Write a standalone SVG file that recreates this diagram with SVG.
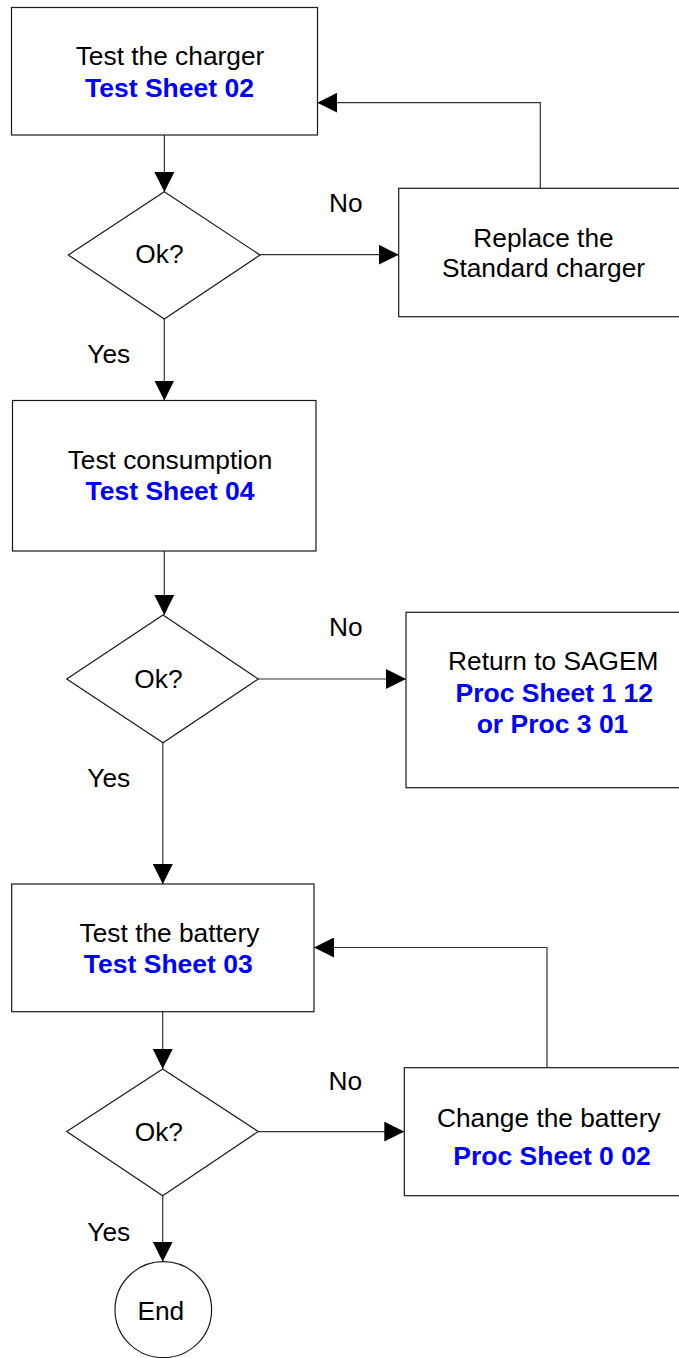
<svg xmlns="http://www.w3.org/2000/svg" width="679" height="1358" viewBox="0 0 679 1358">
<defs>
<style>
.box{fill:#fff;stroke:#1a1a1a;stroke-width:1.2}
.ln{fill:none;stroke:#333;stroke-width:1.2}
.t{font-family:"Liberation Sans",Arial,Helvetica,sans-serif;font-size:26.3px;fill:#000}
.b{font-family:"Liberation Sans",Arial,Helvetica,sans-serif;font-size:26.5px;font-weight:bold;fill:#0000ff}
.m{text-anchor:middle}
</style>
<marker id="ah" markerUnits="userSpaceOnUse" markerWidth="20" markerHeight="20" viewBox="0 0 20 20" refX="20" refY="10" orient="auto">
<path d="M0,0 L20,10 L0,20 Z" fill="#000"/>
</marker>
</defs>
<rect width="679" height="1358" fill="#fff"/>

<g id="connectors">
<path class="ln" d="M164.4,135 V192" marker-end="url(#ah)"/>
<path class="ln" d="M260,254.7 H398.7" marker-end="url(#ah)"/>
<path class="ln" d="M540.3,188.3 V102.7 H317.3" marker-end="url(#ah)"/>
<path class="ln" d="M164.3,319 V400.5" marker-end="url(#ah)"/>
<path class="ln" d="M164.3,551 V615" marker-end="url(#ah)"/>
<path class="ln" d="M258.3,679 H406" marker-end="url(#ah)"/>
<path class="ln" d="M162.8,742.7 V884" marker-end="url(#ah)"/>
<path class="ln" d="M162.7,1011.7 V1069" marker-end="url(#ah)"/>
<path class="ln" d="M258.3,1131.6 H404.3" marker-end="url(#ah)"/>
<path class="ln" d="M547,1067.7 V947.5 H314" marker-end="url(#ah)"/>
<path class="ln" d="M162.7,1195.7 V1261.7" marker-end="url(#ah)"/>
</g>

<g id="labels">
<text class="t" x="329" y="212.3">No</text>
<text class="t" x="87.3" y="363.3">Yes</text>
<text class="t" x="329" y="636">No</text>
<text class="t" x="87.3" y="787.3">Yes</text>
<text class="t" x="328.5" y="1090">No</text>
<text class="t" x="87.3" y="1241">Yes</text>
</g>

<g id="test-charger">
<rect class="box" x="11.5" y="7.5" width="306" height="127.5"/>
<text class="t m" x="170" y="65">Test the charger</text>
<text class="b m" x="169.5" y="96.7">Test Sheet 02</text>
</g>

<g id="ok1">
<polygon class="box" points="164.3,191.7 260,255 164.3,319 68.3,255"/>
<text class="t m" x="159.4" y="263.3">Ok?</text>
</g>

<g id="replace-charger">
<rect class="box" x="398.7" y="188.3" width="290" height="128.4"/>
<text class="t m" x="543.5" y="246.7">Replace the</text>
<text class="t m" x="543.5" y="276.7">Standard charger</text>
</g>

<g id="test-consumption">
<rect class="box" x="12.5" y="400.5" width="303.5" height="150.5"/>
<text class="t m" x="170" y="469">Test consumption</text>
<text class="b m" x="170" y="500">Test Sheet 04</text>
</g>

<g id="ok2">
<polygon class="box" points="163,615 258.3,679 163,742.7 66.7,679"/>
<text class="t m" x="158.4" y="688.3">Ok?</text>
</g>

<g id="return-sagem">
<rect class="box" x="406" y="612.3" width="295" height="175.4"/>
<text class="t m" x="553.3" y="670">Return to SAGEM</text>
<text class="b m" x="554.3" y="701.7">Proc Sheet 1 12</text>
<text class="b m" x="552.5" y="733.3">or Proc 3 01</text>
</g>

<g id="test-battery">
<rect class="box" x="11.7" y="884" width="302.3" height="127.7"/>
<text class="t m" x="169.5" y="941.7">Test the battery</text>
<text class="b m" x="168.3" y="973.3">Test Sheet 03</text>
</g>

<g id="ok3">
<polygon class="box" points="162.7,1069 258.3,1131.5 162.7,1195.7 66.7,1131.5"/>
<text class="t m" x="158.8" y="1140.7">Ok?</text>
</g>

<g id="change-battery">
<rect class="box" x="404.3" y="1067.7" width="290" height="128"/>
<text class="t m" x="548.8" y="1126.7">Change the battery</text>
<text class="b m" x="552" y="1165">Proc Sheet 0 02</text>
</g>

<g id="end">
<ellipse class="box" cx="163.3" cy="1309.7" rx="48.3" ry="48"/>
<text class="t m" x="160.8" y="1320">End</text>
</g>
</svg>
